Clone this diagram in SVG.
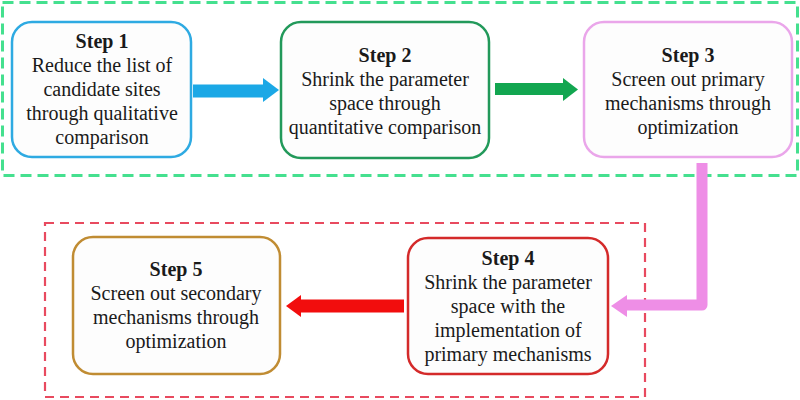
<svg xmlns="http://www.w3.org/2000/svg" width="800" height="400" viewBox="0 0 800 400">
<style>
.t{font-family:"Liberation Serif","Times New Roman",serif;font-size:20px;fill:#1a1a1a;text-anchor:middle}
.b{font-weight:bold}
.box{fill:#fdfdfd;stroke-width:2.5}
</style>
<rect width="800" height="400" fill="#ffffff"/>
<g id="groups">
<rect x="2.5" y="2.5" width="795" height="173" fill="none" stroke="#45e08f" stroke-width="3" stroke-dasharray="11 6"/>
<rect x="45" y="223" width="600" height="174" fill="none" stroke="#e84a5f" stroke-width="2.2" stroke-dasharray="9 6"/>
</g>
<g id="connectors">
<path d="M193 91 H264" stroke="#1ba8e6" stroke-width="13" fill="none"/>
<polygon points="263,78 279,90 263,102" fill="#1ba8e6"/>
<path d="M495 89 H564" stroke="#12a650" stroke-width="12" fill="none"/>
<polygon points="563,78 578,89.5 563,101" fill="#12a650"/>
<path d="M702 163 V305 H626" stroke="#ee8ee6" stroke-width="11" fill="none" stroke-linejoin="round"/>
<polygon points="627,295 611,306 627,317" fill="#ee8ee6"/>
<path d="M404 306 H300" stroke="#f20d0d" stroke-width="13" fill="none"/>
<polygon points="301,295 286,306 301,317" fill="#f20d0d"/>
</g>
<g id="step1">
<rect class="box" x="12" y="22" width="179" height="135" rx="20" stroke="#2eaae2"/>
<text class="t b" x="102" y="48">Step 1</text>
<text class="t" x="102" y="72">Reduce the list of</text>
<text class="t" x="102" y="96">candidate sites</text>
<text class="t" x="102" y="120">through qualitative</text>
<text class="t" x="102" y="144">comparison</text>
</g>
<g id="step2">
<rect class="box" x="281" y="22" width="208" height="136" rx="20" stroke="#22995a"/>
<text class="t b" x="385" y="62">Step 2</text>
<text class="t" x="385" y="86">Shrink the parameter</text>
<text class="t" x="385" y="110">space through</text>
<text class="t" x="385" y="134">quantitative comparison</text>
</g>
<g id="step3">
<rect class="box" x="584" y="22" width="208" height="135" rx="20" stroke="#eaa6ea"/>
<text class="t b" x="688" y="62">Step 3</text>
<text class="t" x="688" y="86">Screen out primary</text>
<text class="t" x="688" y="110">mechanisms through</text>
<text class="t" x="688" y="134">optimization</text>
</g>
<g id="step4">
<rect class="box" x="408" y="238" width="200" height="136" rx="20" stroke="#d42a2a"/>
<text class="t b" x="508" y="265">Step 4</text>
<text class="t" x="508" y="289">Shrink the parameter</text>
<text class="t" x="508" y="313">space with the</text>
<text class="t" x="508" y="337">implementation of</text>
<text class="t" x="508" y="361">primary mechanisms</text>
</g>
<g id="step5">
<rect class="box" x="73" y="237" width="207" height="137" rx="20" stroke="#c08c33"/>
<text class="t b" x="176" y="276">Step 5</text>
<text class="t" x="176" y="300">Screen out secondary</text>
<text class="t" x="176" y="324">mechanisms through</text>
<text class="t" x="176" y="348">optimization</text>
</g>
</svg>
